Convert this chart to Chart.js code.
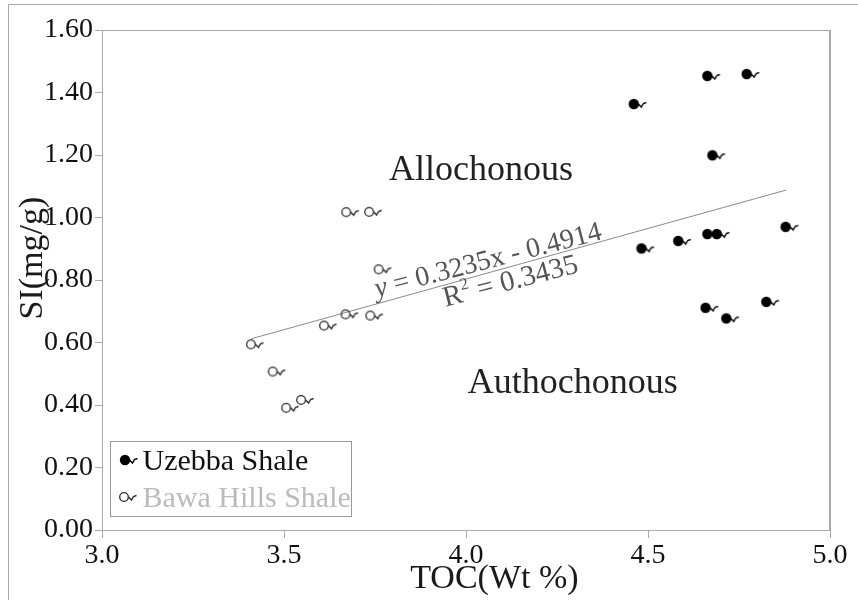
<!DOCTYPE html>
<html>
<head>
<meta charset="utf-8">
<script src="https://cdn.jsdelivr.net/npm/chart.js@4.4.1/dist/chart.umd.min.js"></script>
<style>
  html, body { margin: 0; padding: 0; background: #fff; }
  #wrap { width: 858px; height: 600px; position: relative; }
</style>
</head>
<body>
<div id="wrap"><canvas id="myChart"></canvas></div>
<script>
// values
const uzebbaToc = [4.663, 4.771, 4.461, 4.677, 4.878, 4.482, 4.583, 4.663, 4.689, 4.658, 4.715, 4.825];
const uzebbaSi = [1.453, 1.459, 1.363, 1.199, 0.970, 0.901, 0.925, 0.947, 0.947, 0.711, 0.677, 0.730];
const bawaToc = [3.671, 3.734, 3.760, 3.669, 3.737, 3.610, 3.409, 3.469, 3.506, 3.547];
const bawaSi = [1.017, 1.018, 0.834, 0.690, 0.686, 0.654, 0.594, 0.507, 0.391, 0.416];
const trendToc = [3.41, 4.88];
const trendSi = [0.612, 1.088];
const xTicks = [3.0, 3.5, 4.0, 4.5, 5.0];
const yTicks = [0.0, 0.2, 0.4, 0.6, 0.8, 1.0, 1.2, 1.4, 1.6];

const SERIF = '"Liberation Serif", "Times New Roman", serif';

function toPoints(xs, ys) {
  return xs.map((x, i) => ({ x: x, y: ys[i] }));
}

// circle with a little tail, circle sits in the middle of the image
function makeMarker(filled) {
  const c = document.createElement("canvas");
  c.width = 40;
  c.height = 16;
  const g = c.getContext("2d");
  const cx = 20, cy = 8;
  g.strokeStyle = filled ? "#000" : "#2a2a2a";
  g.fillStyle = "#000";
  g.lineWidth = filled ? 1.6 : 1.3;
  g.beginPath();
  g.arc(cx, cy, filled ? 5.2 : 4.3, 0, Math.PI * 2);
  if (filled) g.fill(); else g.stroke();
  g.lineWidth = 1.4;
  g.beginPath();
  g.moveTo(cx + 4.5, cy);
  g.lineTo(cx + 7.5, cy + 3);
  g.lineTo(cx + 9.5, cy - 0.5);
  g.lineTo(cx + 12.5, cy - 1.5);
  g.stroke();
  return c;
}

const fullMark = makeMarker(true);
const openMark = makeMarker(false);

const decorations = {
  id: "decorations",
  beforeDraw(chart) {
    const g = chart.ctx;
    g.save();
    g.strokeStyle = "#aaa";
    g.lineWidth = 1;
    g.beginPath();
    g.moveTo(8.5, 600);
    g.lineTo(8.5, 4.5);
    g.lineTo(858, 4.5);
    g.stroke();
    g.restore();
  },
  afterDraw(chart) {
    const g = chart.ctx;
    const a = chart.chartArea;
    const xs = chart.scales.x, ys = chart.scales.y;
    g.save();

    // top and right frame of the plot
    g.strokeStyle = "#aaa";
    g.lineWidth = 1;
    g.beginPath();
    g.moveTo(a.left, a.top + 0.5);
    g.lineTo(a.right, a.top + 0.5);
    g.stroke();
    g.lineWidth = 2;
    g.beginPath();
    g.moveTo(a.right, a.top);
    g.lineTo(a.right, a.bottom);
    g.stroke();

    // axis titles
    g.fillStyle = "#1a1a1a";
    g.font = "34px " + SERIF;
    g.textAlign = "center";
    g.textBaseline = "alphabetic";
    g.fillText("TOC(Wt %)", xs.getPixelForValue(4.078), 588);
    g.save();
    g.translate(42, ys.getPixelForValue(0.87));
    g.rotate(-Math.PI / 2);
    g.fillText("SI(mg/g)", 0, 0);
    g.restore();

    // region labels
    g.fillStyle = "#222";
    g.font = "36px " + SERIF;
    g.fillText("Allochonous", xs.getPixelForValue(4.041), ys.getPixelForValue(1.12));
    g.fillText("Authochonous", xs.getPixelForValue(4.293), ys.getPixelForValue(0.438));

    // regression equation along the trend line
    const p0x = xs.getPixelForValue(trendToc[0]), p0y = ys.getPixelForValue(trendSi[0]);
    const p1x = xs.getPixelForValue(trendToc[1]), p1y = ys.getPixelForValue(trendSi[1]);
    const ang = Math.atan2(p1y - p0y, p1x - p0x) * 0.93;
    g.fillStyle = "#555";
    g.save();
    g.translate(xs.getPixelForValue(4.066), ys.getPixelForValue(0.838));
    g.rotate(ang);
    g.font = "italic 28px " + SERIF;
    const wy = g.measureText("y").width;
    g.font = "28px " + SERIF;
    const rest = " = 0.3235x - 0.4914";
    const wr = g.measureText(rest).width;
    const start = -(wy + wr) / 2;
    g.textAlign = "left";
    g.font = "italic 28px " + SERIF;
    g.fillText("y", start, 0);
    g.font = "28px " + SERIF;
    g.fillText(rest, start + wy, 0);
    g.restore();

    g.save();
    g.translate(xs.getPixelForValue(4.128), ys.getPixelForValue(0.770));
    g.rotate(ang);
    g.font = "29px " + SERIF;
    const wR = g.measureText("R").width;
    g.font = "17px " + SERIF;
    const w2 = g.measureText("2").width;
    g.font = "29px " + SERIF;
    const tail = " = 0.3435";
    const wt = g.measureText(tail).width;
    const sx = -(wR + w2 + wt) / 2;
    g.textAlign = "left";
    g.fillText("R", sx, 0);
    g.font = "17px " + SERIF;
    g.fillText("2", sx + wR, -12);
    g.font = "29px " + SERIF;
    g.fillText(tail, sx + wR + w2, 0);
    g.restore();

    // legend box inside the plot
    const lx = a.left + 8.5, ly = a.bottom - 88.5;
    g.strokeStyle = "#999";
    g.lineWidth = 1;
    g.strokeRect(lx, ly, 241, 75);
    g.drawImage(fullMark, lx + 14.5 - 20, ly + 18.5 - 8);
    g.drawImage(openMark, lx + 13.5 - 20, ly + 55.5 - 8);
    g.font = "30px " + SERIF;
    g.textAlign = "left";
    g.fillStyle = "#111";
    g.fillText("Uzebba Shale", lx + 32, ly + 28);
    g.fillStyle = "#bbb";
    g.fillText("Bawa Hills Shale", lx + 32, ly + 65);

    g.restore();
  }
};

new Chart(document.getElementById("myChart"), {
  type: "scatter",
  data: {
    datasets: [
      {
        label: "Uzebba Shale",
        data: toPoints(uzebbaToc, uzebbaSi),
        pointStyle: fullMark,
        pointRadius: 8,
      },
      {
        label: "Bawa Hills Shale",
        data: toPoints(bawaToc, bawaSi),
        pointStyle: openMark,
        pointRadius: 8,
      },
      {
        type: "line",
        label: "trend",
        data: toPoints(trendToc, trendSi),
        borderColor: "#8a8a8a",
        borderWidth: 1,
        pointRadius: 0,
        fill: false,
      },
    ],
  },
  options: {
    responsive: true,
    maintainAspectRatio: false,
    animation: false,
    layout: { padding: { top: 30, right: 28, left: 0, bottom: 0 } },
    plugins: {
      legend: { display: false },
      tooltip: { enabled: false },
    },
    scales: {
      x: {
        type: "linear",
        min: 3,
        max: 5,
        afterBuildTicks(scale) {
          scale.ticks = xTicks.map((v) => ({ value: v }));
        },
        afterFit(scale) {
          scale.height = 70;
        },
        ticks: {
          color: "#111",
          font: { family: SERIF, size: 28 },
          padding: 1,
          maxRotation: 0,
          callback: (v) => Number(v).toFixed(1),
        },
        grid: { drawOnChartArea: false, drawTicks: true, tickLength: 8, color: "#aaa" },
        border: { display: true, color: "#aaa", width: 1 },
      },
      y: {
        type: "linear",
        min: 0,
        max: 1.6,
        afterBuildTicks(scale) {
          scale.ticks = yTicks.map((v) => ({ value: v }));
        },
        afterFit(scale) {
          scale.width = 102;
        },
        ticks: {
          color: "#111",
          font: { family: SERIF, size: 28 },
          padding: 2,
          callback: (v) => Number(v).toFixed(2),
        },
        grid: { drawOnChartArea: false, drawTicks: true, tickLength: 7, color: "#aaa" },
        border: { display: true, color: "#aaa", width: 1 },
      },
    },
  },
  plugins: [decorations],
});
</script>
</body>
</html>
